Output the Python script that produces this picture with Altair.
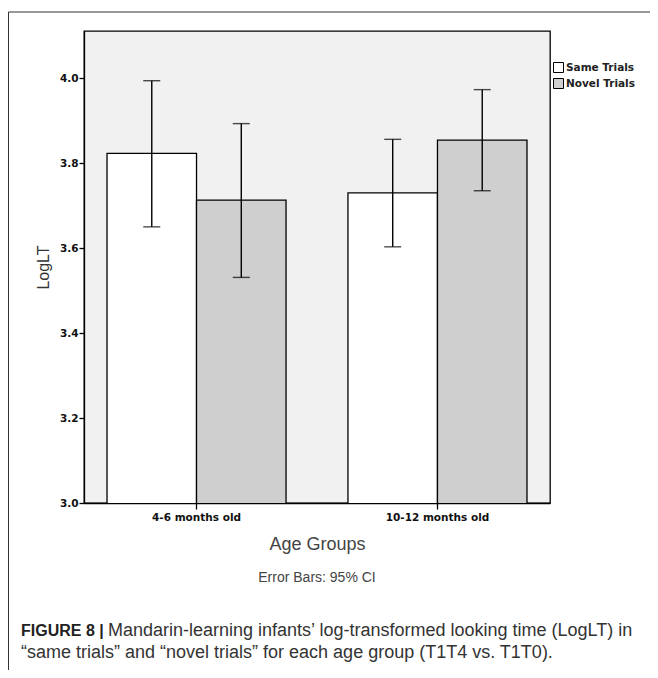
import altair as alt
import pandas as pd

groups = ["4-6 months old", "4-6 months old", "10-12 months old", "10-12 months old"]
trials = ["Same Trials", "Novel Trials", "Same Trials", "Novel Trials"]
means = [3.823, 3.713, 3.730, 3.854]
ci_low = [3.650, 3.531, 3.603, 3.735]
ci_high = [3.994, 3.893, 3.856, 3.973]

group_order = ["4-6 months old", "10-12 months old"]
trial_order = ["Same Trials", "Novel Trials"]
y_ticks = [3.0, 3.2, 3.4, 3.6, 3.8, 4.0]

df = pd.DataFrame({"group": groups, "trial": trials, "mean": means,
                   "lo": ci_low, "hi": ci_high})

W, H = 466, 472
LABEL_FONT = "DejaVu Sans"
TEXT_FONT = "Liberation Sans"

x = alt.X("group:N", sort=group_order,
          scale=alt.Scale(paddingInner=0.257, paddingOuter=0.0955),
          axis=alt.Axis(title="Age Groups", labelAngle=0, labelFont=LABEL_FONT,
                        labelFontSize=10.5, labelFontWeight="bold", labelColor="#111",
                        labelPadding=3, tickSize=6, tickColor="black", tickWidth=1.3,
                        domainColor="black", domainWidth=1.3,
                        titleFont=TEXT_FONT, titleFontSize=18, titleFontWeight="normal",
                        titleColor="#444", titlePadding=13))
xo = alt.XOffset("trial:N", sort=trial_order, scale=alt.Scale(paddingInner=0, paddingOuter=0))
y = alt.Y("mean:Q", scale=alt.Scale(domain=[3.0, 4.111], nice=False, zero=False),
          axis=alt.Axis(title="LogLT", values=y_ticks, format=".1f", labelFont=LABEL_FONT,
                        labelFontSize=10.5, labelFontWeight="bold", labelColor="#111",
                        labelPadding=1, tickSize=5, tickColor="black", tickWidth=1.3,
                        domainColor="black", domainWidth=1.3, grid=False,
                        titleFont=TEXT_FONT, titleFontSize=16, titleFontWeight="normal",
                        titleColor="#333", titlePadding=8))

base = alt.Chart(df)

bars = base.mark_bar(stroke="black", strokeWidth=1.3, clip=True).encode(
    x=x, xOffset=xo, y=y,
    fill=alt.Fill("trial:N", sort=trial_order,
                  scale=alt.Scale(domain=trial_order, range=["#ffffff", "#cfcfcf"]),
                  legend=alt.Legend(title=None, orient="none", legendX=469, legendY=31,
                                    symbolType="square", symbolSize=100,
                                    symbolStrokeColor="black", symbolStrokeWidth=1,
                                    labelFont=LABEL_FONT, labelFontSize=10.5,
                                    labelFontWeight="bold", labelColor="#222",
                                    labelOffset=2, rowPadding=1)),
)

err = base.mark_rule(color="black", strokeWidth=1.4).encode(
    x=alt.X("group:N", sort=group_order), xOffset=alt.XOffset("trial:N", sort=trial_order),
    y="lo:Q", y2="hi:Q")
cap_hi = base.mark_tick(color="black", size=17, thickness=1.4).encode(
    x=alt.X("group:N", sort=group_order), xOffset=alt.XOffset("trial:N", sort=trial_order),
    y="hi:Q")
cap_lo = base.mark_tick(color="black", size=17, thickness=1.4).encode(
    x=alt.X("group:N", sort=group_order), xOffset=alt.XOffset("trial:N", sort=trial_order),
    y="lo:Q")

note = alt.Chart(pd.DataFrame({"t": ["Error Bars: 95% CI"]})).mark_text(
    font=TEXT_FONT, fontSize=14, color="#444", align="center", baseline="middle"
).encode(text="t:N", x=alt.value(W / 2), y=alt.value(547))

cap1a = alt.Chart(pd.DataFrame({"t": ["FIGURE 8 |"]})).mark_text(
    font=TEXT_FONT, fontSize=16, fontWeight="bold", color="#222",
    align="left", baseline="middle"
).encode(text="t:N", x=alt.value(-63), y=alt.value(600))
cap1b = alt.Chart(pd.DataFrame({"t": ["Mandarin-learning infants\u2019 log-transformed looking time (LogLT) in"]})).mark_text(
    font=TEXT_FONT, fontSize=18, color="#333", align="left", baseline="middle"
).encode(text="t:N", x=alt.value(24), y=alt.value(600))
cap2 = alt.Chart(pd.DataFrame({"t": ["\u201csame trials\u201d and \u201cnovel trials\u201d for each age group (T1T4 vs. T1T0)."]})).mark_text(
    font=TEXT_FONT, fontSize=18, color="#333", align="left", baseline="middle"
).encode(text="t:N", x=alt.value(-63), y=alt.value(622))

frame_top = alt.Chart(pd.DataFrame({"a": [0]})).mark_rule(color="#333", strokeWidth=1).encode(
    x=alt.value(-75.5), x2=alt.value(570), y=alt.value(-19))
frame_left = alt.Chart(pd.DataFrame({"a": [0]})).mark_rule(color="#333", strokeWidth=1).encode(
    x=alt.value(-75.5), y=alt.value(-19), y2=alt.value(700))

chart = alt.layer(bars, err, cap_hi, cap_lo, note, cap1a, cap1b, cap2, frame_top, frame_left).properties(
    width=W, height=H,
    autosize=alt.AutoSizeParams(type="none"),
    padding={"left": 76, "top": 23, "right": 100, "bottom": 167},
    background="white",
).configure_view(stroke="black", strokeWidth=1.3, fill="#f1f1f1")

chart.save("out.html", embed_options={"renderer": "svg", "actions": False})
